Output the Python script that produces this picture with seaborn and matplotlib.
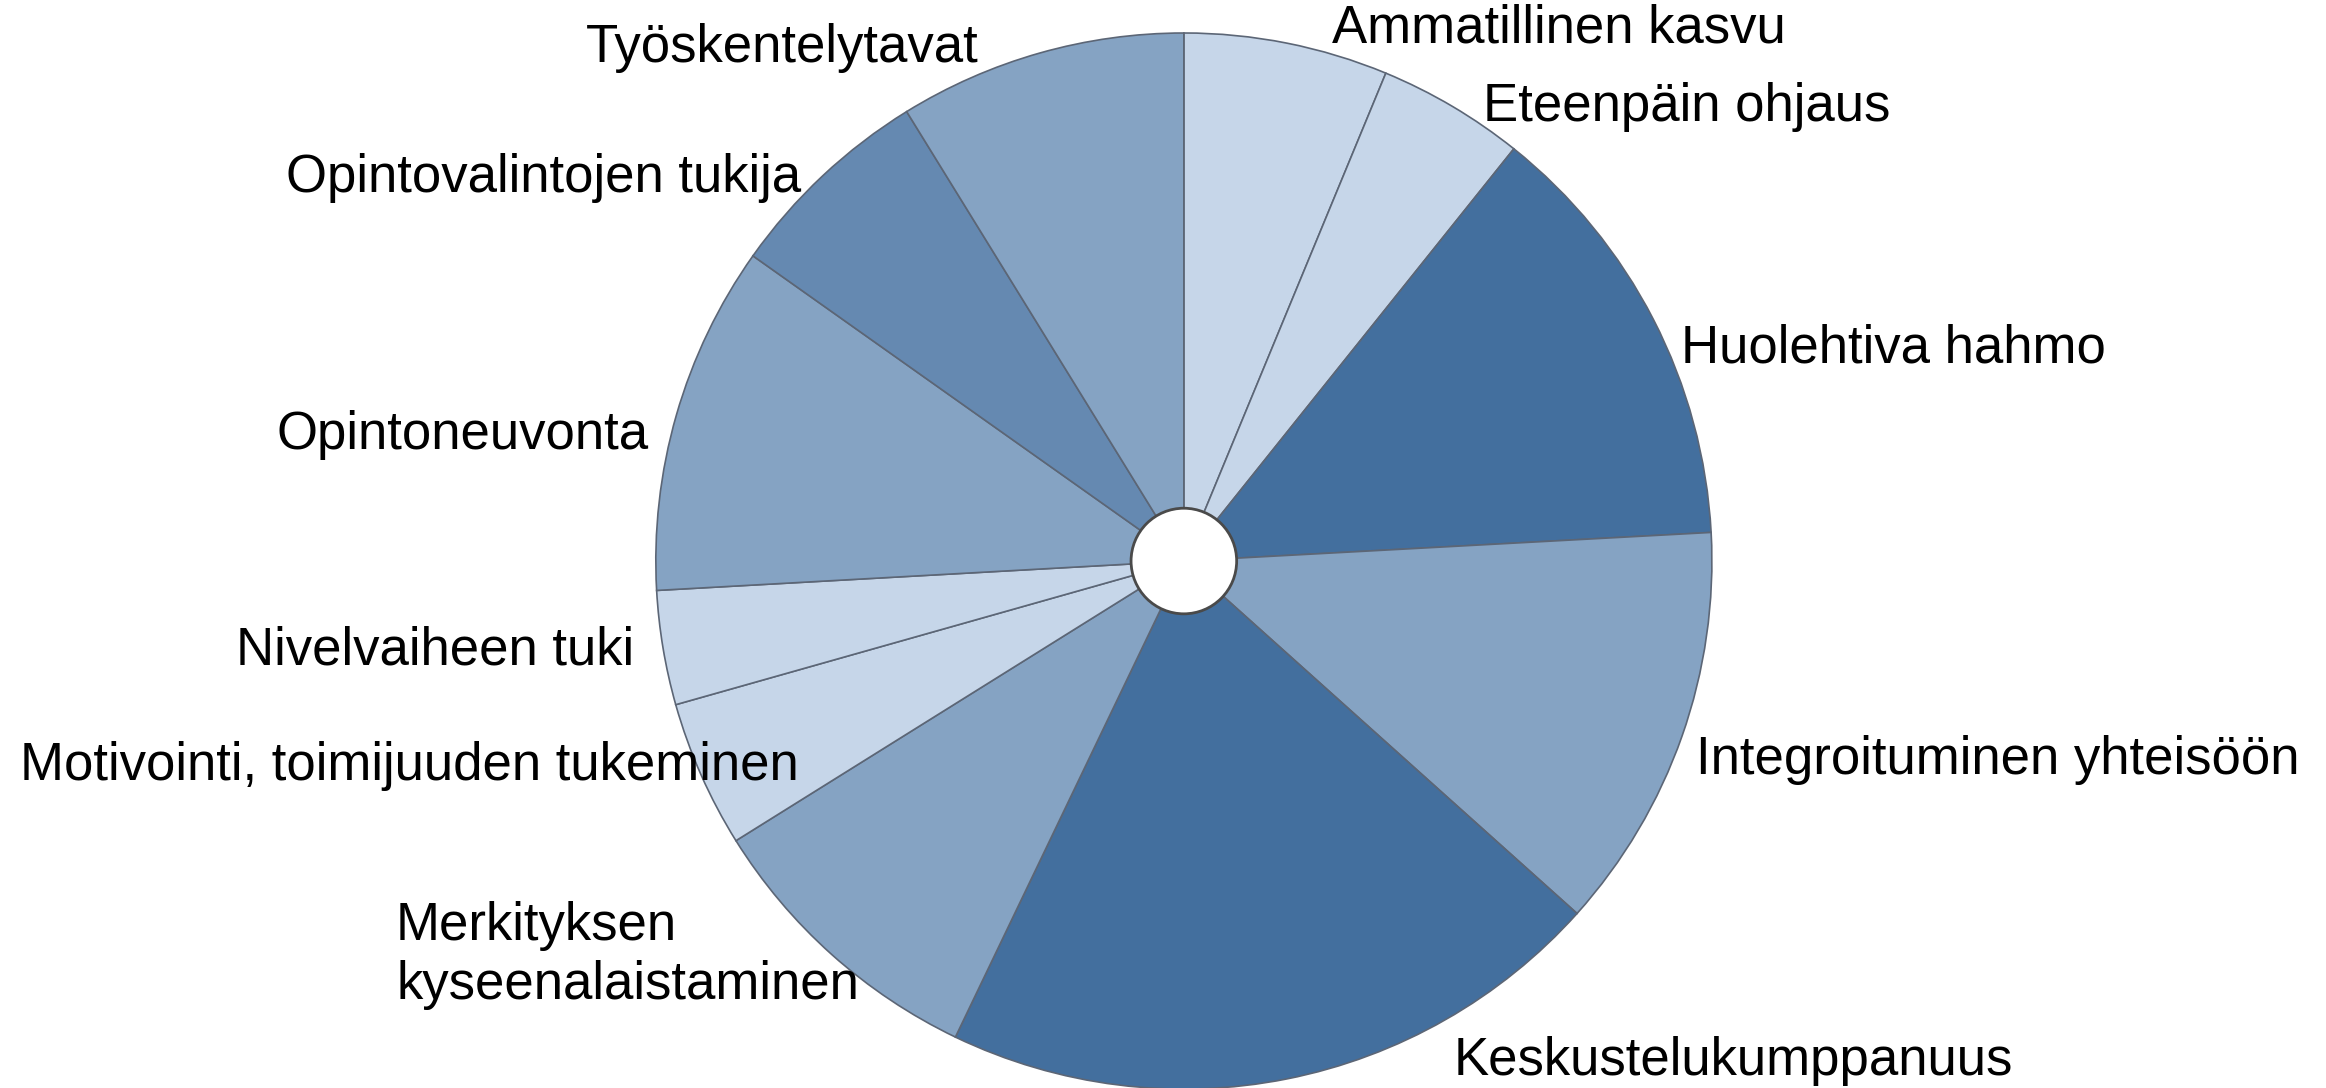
import matplotlib
matplotlib.use("Agg")
import matplotlib.pyplot as plt
import seaborn as sns

# slice data, clockwise from 12 o'clock (share of total, %)
categories = [
    "Ammatillinen kasvu",
    "Eteenpäin ohjaus",
    "Huolehtiva hahmo",
    "Integroituminen yhteisöön",
    "Keskustelukumppanuus",
    "Merkityksen\nkyseenalaistaminen",
    "Motivointi, toimijuuden tukeminen",
    "Nivelvaiheen tuki",
    "Opintoneuvonta",
    "Opintovalintojen tukija",
    "Työskentelytavat",
]
shares = [6.25, 4.5, 13.4, 12.5, 20.5, 9.0, 4.5, 3.5, 10.7, 6.4, 8.8]

light = "#c6d6e9"
mid = "#85a3c3"
middark = "#6589b1"
dark = "#436f9e"
slice_colors = [light, light, dark, mid, dark, mid, light, light, mid, middark, mid]

# label anchor (x, y, horizontal alignment), pie radius = 1
label_pos = [
    (0.281, 1.008, "left"),
    (0.567, 0.860, "left"),
    (0.941, 0.402, "left"),
    (0.969, -0.376, "left"),
    (0.511, -0.947, "left"),
    (-1.492, -0.747, "left"),
    (-0.730, -0.388, "right"),
    (-1.042, -0.169, "right"),
    (-1.014, 0.239, "right"),
    (-0.725, 0.725, "right"),
    (-0.388, 0.972, "right"),
]

sns.set_theme(style="white")
plt.rcParams["font.family"] = ["Liberation Sans Narrow", "Liberation Sans", "DejaVu Sans"]

fig = plt.figure(figsize=(23.26, 10.88), dpi=100)
ax = fig.add_axes([0, 0, 1, 1])

ax.pie(
    shares,
    colors=slice_colors,
    startangle=90,
    counterclock=False,
    radius=1.0,
    wedgeprops=dict(edgecolor="#5c6676", linewidth=1.2),
)

# small hole in the middle
hole = plt.Circle((0, 0), 0.1, facecolor="white", edgecolor="#4a4a4a", linewidth=2, zorder=5)
ax.add_patch(hole)

for name, (x, y, ha) in zip(categories, label_pos):
    ax.text(x, y, name, ha=ha, va="center", fontsize=38, color="black",
            linespacing=1.25, multialignment="left")

ax.set_xlim(-2.242, 2.163)
ax.set_ylim(-0.998, 1.0625)
ax.set_aspect("auto")
ax.axis("off")

fig.savefig("out.png", dpi=100, facecolor="white")
